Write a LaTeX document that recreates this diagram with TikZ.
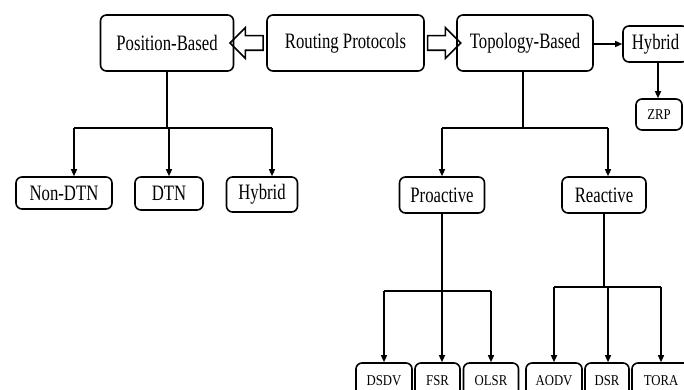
\documentclass[tikz,border=0pt]{standalone}
\usepackage{fontspec}
\setmainfont{Liberation Serif}[FakeStretch=0.76]
\newfontfamily\leaffont{Liberation Serif}[FakeStretch=0.85]
\usetikzlibrary{arrows.meta,
	calc,
	positioning,
	shapes.arrows}

\tikzset{
	box/.style={draw, rounded corners=6pt, line width=1.6pt, inner sep=0pt},
	bigbox/.style={box, font=\fontsize{22}{26}\selectfont},
	smallbox/.style={box, font=\leaffont\fontsize{15}{18}\selectfont},
	link/.style={line width=1.4pt},
	arr/.style={link, -{Triangle[length=7pt,width=6pt]}},
	fatarrow/.style={single arrow, draw, line width=1.6pt, inner xsep=0pt, inner ysep=6.5pt,
		single arrow head extend=8pt, minimum height=33pt}
}

\begin{document}
\begin{tikzpicture}[x=1pt,y=-1pt]
\useasboundingbox (0,0) rectangle (684,390);
\clip (0,0) rectangle (684,390);

% top row
\node[bigbox, minimum width=133pt, minimum height=56pt] (pb) at (167,43) {Position-Based};
\node[bigbox, minimum width=157pt, minimum height=56pt] (rp) at (345.5,43) {Routing Protocols};
\node[bigbox, minimum width=136pt, minimum height=56pt] (tb) at (525,43) {Topology-Based};
\node[bigbox, minimum width=65pt, minimum height=36pt] (hy) at (655.5,44) {Hybrid};
\node[smallbox, minimum width=46pt, minimum height=31pt] (zrp) at (659,114.5) {ZRP};

\node[fatarrow, shape border rotate=180] (pbarr) at ($(pb.east)!0.5!(rp.west)$) {};
\node[fatarrow] (tbarr) at ($(rp.east)!0.5!(tb.west)$) {};

\draw[arr] (tb.east |- hy.west) -- (hy.west);
\draw[arr] ([xshift=2.5pt]hy.south) -- ([xshift=2.5pt]hy.south |- zrp.north);

% position-based
\node[bigbox, minimum width=96pt, minimum height=32pt] (ndtn) at (64,193) {Non-DTN};
\node[bigbox, minimum width=68pt, minimum height=33pt] (dtn) at (169,193.5) {DTN};
\node[bigbox, minimum width=71pt, minimum height=35pt] (phy) at (262,194.5) {Hybrid};

\coordinate (pbbus) at (167,128);
\draw[link] (pb.south) -- (pbbus);
\draw[link] ([xshift=10pt]ndtn.north |- pbbus) -- ([xshift=10pt]phy.north |- pbbus);
\draw[arr] ([xshift=10pt]ndtn.north |- pbbus) -- ([xshift=10pt]ndtn.north);
\draw[arr] (dtn.north |- pbbus) -- (dtn.north);
\draw[arr] ([xshift=10pt]phy.north |- pbbus) -- ([xshift=10pt]phy.north);

% topology-based
\node[bigbox, minimum width=85pt, minimum height=36pt] (pro) at (442,195) {Proactive};
\node[bigbox, minimum width=84pt, minimum height=36pt] (rea) at (604,195) {Reactive};

\coordinate (tbbus) at (523,128);
\draw[link] ([xshift=-2pt]tb.south) -- (tbbus);
\draw[link] (pro.north |- tbbus) -- ([xshift=4pt]rea.north |- tbbus);
\draw[arr] (pro.north |- tbbus) -- (pro.north);
\draw[arr] ([xshift=4pt]rea.north |- tbbus) -- ([xshift=4pt]rea.north);

% leaves
\foreach \nm/\tx/\xx/\ww in {dsdv/DSDV/384/56, fsr/FSR/437.5/45, olsr/OLSR/491/55,
	aodv/AODV/554/56, dsr/DSR/607/44, tora/TORA/661/58}{
	\node[smallbox, minimum width=\ww pt, minimum height=36pt] (\nm) at (\xx,381) {\tx};
}

\coordinate (probus) at (442,291);
\draw[link] (dsdv.north |- probus) -- (olsr.north |- probus);
\draw[arr] (pro.south) -- (pro.south |- fsr.north);
\draw[arr] (dsdv.north |- probus) -- (dsdv.north);
\draw[arr] (olsr.north |- probus) -- (olsr.north);

\coordinate (reabus) at (604,287);
\draw[link] (rea.south) -- (reabus);
\draw[link] (aodv.north |- reabus) -- (tora.north |- reabus);
\draw[arr] (aodv.north |- reabus) -- (aodv.north);
\draw[arr] ([xshift=1pt]dsr.north |- reabus) -- ([xshift=1pt]dsr.north);
\draw[arr] (tora.north |- reabus) -- (tora.north);
\end{tikzpicture}
\end{document}
